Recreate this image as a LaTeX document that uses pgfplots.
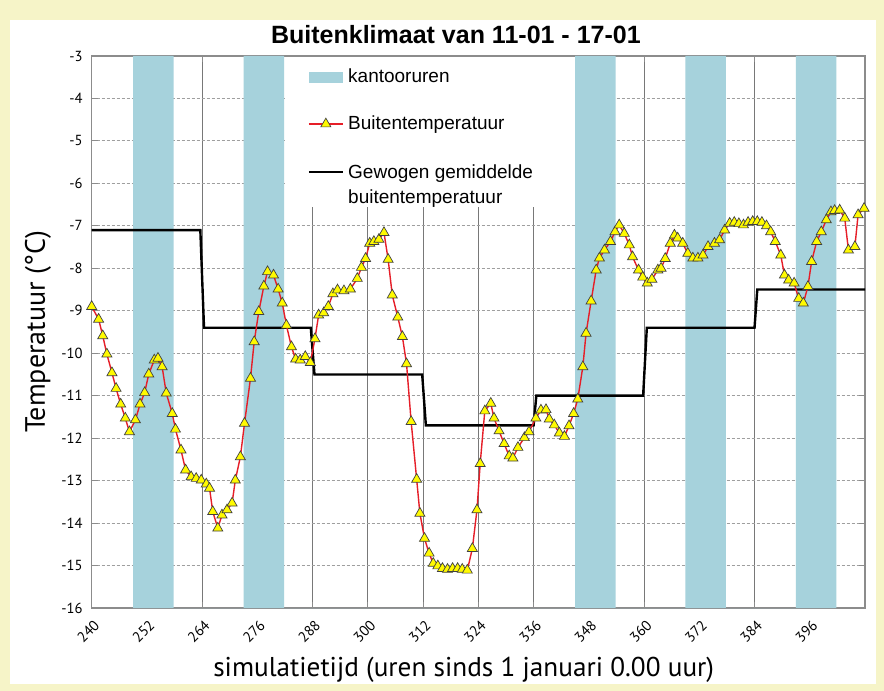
\documentclass[border=0pt]{standalone}
\usepackage{fontspec}
\setmainfont{Liberation Sans}
\newfontfamily\ptsans{PT Sans}
\usepackage{pgfplots}
\pgfplotsset{compat=1.18}
\definecolor{bgyellow}{RGB}{246,244,200}
\definecolor{bandblue}{RGB}{166,210,220}
\definecolor{gridgray}{RGB}{120,120,120}
\definecolor{framegray}{RGB}{140,140,140}
\definecolor{tempred}{RGB}{230,30,40}
\definecolor{markyellow}{RGB}{255,250,0}

\begin{document}
\begin{tikzpicture}
\fill[bgyellow] (-45.85pt,-41.5pt) rectangle (396.15pt,304pt);
\fill[white] (-40.85pt,-38pt) rectangle (392.15pt,294pt);
\path[use as bounding box] (-45.85pt,-41.5pt) rectangle (396.15pt,304pt);
\begin{axis}[
  at={(0,0)}, anchor=south west,
  scale only axis, width=386.65pt, height=276pt,
  xmin=240, xmax=408, ymin=-16, ymax=-3,
  xtick={240,252,...,396},
  ytick={-16,-15,...,-3},
  xmajorgrids, ymajorgrids,
  x grid style={gridgray, line width=0.5pt},
  y grid style={gray!75, dash pattern=on 1.5pt off 1pt, line width=0.5pt},
  axis line style={framegray, line width=0.8pt},
  tick style={framegray, line width=0.5pt},
  major tick length=3pt,
  /pgf/number format/assume math mode=true,
  ticklabel style={font=\ptsans\fontsize{7.3}{8}\selectfont},
  xticklabel style={xshift=5pt, yshift=-5pt, rotate=45, anchor=east},
  yticklabel style={xshift=-1pt},
  title={Buitenklimaat van 11-01 - 17-01},
  title style={font=\bfseries\fontsize{12.5}{14}\selectfont, at={(axis description cs:0.471,1)}, anchor=center, yshift=4.5pt},
  xlabel={simulatietijd (uren sinds 1 januari 0.00 uur)},
  ylabel={Temperatuur (°C)},
  xlabel style={font=\ptsans\fontsize{13.6}{15}\selectfont, at={(axis description cs:0.481,0)}, anchor=center, yshift=-31pt},
  ylabel style={font=\ptsans\fontsize{14}{16}\selectfont, at={(axis description cs:-0.0694,0.50)}, anchor=center},
  legend style={at={(axis description cs:0.271,0.992)}, anchor=north west, fill=none, draw=none,
    font=\fontsize{9.5}{11.5}\selectfont, row sep=11pt},
  legend cell align=left,
]
% witte achtergrond legenda
\fill[white] (axis cs:282,-6.55) rectangle ([yshift=-0.5pt]axis cs:345,-3);

% kantooruren
\addplot[fill=bandblue, draw=none,
  legend image code/.code={\fill[bandblue] (0pt,-2.7pt) rectangle (17pt,2.7pt);}]
  coordinates {
  (249,-16) (249,-3) (257.8,-3) (257.8,-16)
  (273,-16) (273,-3) (281.8,-3) (281.8,-16)
  (345,-16) (345,-3) (353.8,-3) (353.8,-16)
  (369,-16) (369,-3) (377.8,-3) (377.8,-16)
  (393,-16) (393,-3) (401.8,-3) (401.8,-16)
  } -- cycle;
\addlegendentry{kantooruren}

% gewogen gemiddelde
\addplot[black, line width=1.2pt, forget plot] coordinates {
  (240,-7.1) (263.6,-7.1) (264.4,-9.4) (287.6,-9.4) (288.4,-10.5)
  (311.8,-10.5) (312.6,-11.7) (336,-11.7) (336.6,-11.0) (359.8,-11.0)
  (360.6,-9.4) (384,-9.4) (384.6,-8.5) (408,-8.5)
};

% buitentemperatuur
\addplot[tempred, line width=0.7pt, mark=triangle*, mark size=2.9pt,
  mark options={fill=markyellow, draw=black!75, line width=0.35pt, solid},
  legend image code/.code={\draw[mark repeat=2,mark phase=2] plot coordinates {(0pt,0pt) (8.5pt,0pt) (17pt,0pt)};}]
  coordinates {
(240.0,-8.90) (241.5,-9.20) (242.4,-9.59) (243.3,-10.02) (244.4,-10.46)
(245.3,-10.83) (246.3,-11.20) (247.3,-11.53) (248.2,-11.85) (249.5,-11.57)
(250.5,-11.20) (251.5,-10.93) (252.4,-10.49) (253.6,-10.16) (254.4,-10.12)
(255.3,-10.32) (256.2,-10.94) (257.5,-11.42) (258.2,-11.79) (259.4,-12.28)
(260.4,-12.75) (261.6,-12.91) (262.7,-12.95) (263.8,-12.99) (264.9,-13.08)
(265.6,-13.18) (266.3,-13.73) (267.4,-14.12) (268.3,-13.81) (269.4,-13.69)
(270.5,-13.53) (271.2,-12.99) (272.3,-12.44) (273.2,-11.65) (274.5,-10.59)
(275.3,-9.73) (276.3,-9.02) (277.4,-8.42) (278.2,-8.08) (279.5,-8.16)
(280.5,-8.49) (281.4,-8.82) (282.3,-9.34) (283.4,-9.85) (284.3,-10.14)
(285.3,-10.16) (286.4,-10.08) (287.5,-10.22) (288.5,-9.66) (289.3,-9.10)
(290.4,-9.05) (291.4,-8.90) (292.4,-8.60) (293.4,-8.51) (294.8,-8.53)
(296.2,-8.49) (297.7,-8.24) (298.6,-7.98) (299.5,-7.77) (300.4,-7.41)
(301.3,-7.37) (302.4,-7.32) (303.5,-7.16) (304.4,-7.79) (305.3,-8.63)
(306.5,-9.15) (307.5,-9.61) (308.4,-10.25) (309.4,-11.61) (310.6,-12.97)
(311.3,-13.77) (312.3,-14.36) (313.3,-14.71) (314.2,-14.95) (315.2,-15.01)
(316.2,-15.07) (317.3,-15.09) (318.4,-15.07) (319.5,-15.07) (320.5,-15.09)
(321.6,-15.11) (322.7,-14.60) (323.7,-13.69) (324.4,-12.60) (325.4,-11.36)
(326.7,-11.18) (327.4,-11.53) (328.5,-11.83) (329.6,-12.13) (330.7,-12.42)
(331.5,-12.47) (332.6,-12.22) (334.0,-11.99) (335.0,-11.85) (336.5,-11.53)
(337.6,-11.34) (338.7,-11.33) (339.4,-11.55) (340.5,-11.69) (341.6,-11.88)
(342.7,-11.96) (343.7,-11.71) (344.7,-11.42) (345.6,-11.08) (346.7,-10.32)
(347.4,-9.53) (348.5,-8.77) (349.6,-8.04) (350.3,-7.76) (351.4,-7.57)
(352.7,-7.37) (353.7,-7.14) (354.6,-6.98) (355.7,-7.18) (356.8,-7.45)
(357.5,-7.73) (358.8,-8.04) (359.7,-8.21) (360.7,-8.35) (361.7,-8.26)
(363.0,-8.04) (363.7,-8.00) (364.6,-7.77) (365.7,-7.41) (366.6,-7.22)
(367.3,-7.29) (368.4,-7.41) (369.5,-7.65) (370.6,-7.76) (371.7,-7.76)
(372.8,-7.69) (373.9,-7.49) (375.3,-7.41) (376.4,-7.33) (377.5,-7.10)
(378.6,-6.94) (379.6,-6.92) (380.6,-6.95) (381.6,-6.98) (382.6,-6.92)
(383.6,-6.90) (384.6,-6.90) (385.6,-6.92) (386.6,-7.00) (387.5,-7.14)
(388.5,-7.37) (389.7,-7.69) (390.5,-8.16) (391.4,-8.28) (392.6,-8.35)
(393.6,-8.71) (394.6,-8.82) (395.6,-8.43) (396.4,-7.84) (397.5,-7.37)
(398.5,-7.14) (399.6,-6.86) (400.6,-6.67) (401.4,-6.64) (402.5,-6.63)
(403.6,-6.82) (404.4,-7.57) (405.8,-7.49) (406.5,-6.74) (407.8,-6.59)
};
\addlegendentry{Buitentemperatuur}

\addlegendimage{black, line width=1.2pt}
\addlegendentry{\begin{tabular}[t]{@{}l@{}}Gewogen gemiddelde\\[1pt]buitentemperatuur\end{tabular}}
\end{axis}
\end{tikzpicture}
\end{document}
